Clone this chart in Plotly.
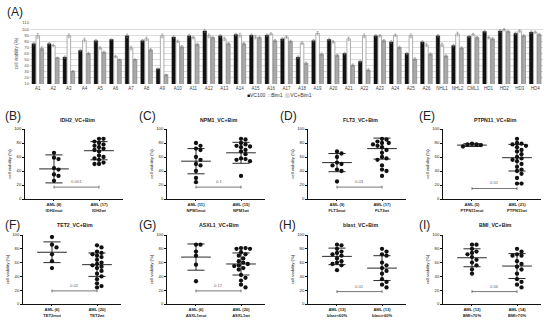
import plotly.graph_objects as go

W, H = 550, 320
FONT = "Liberation Sans, Arial, sans-serif"

# ---------------- Panel A data ----------------
cats_A = ["A1", "A2", "A3", "A4", "A5", "A6", "A7", "A8", "A9", "A10", "A11", "A12", "A13",
          "A14", "A15", "A16", "A17", "A18", "A19", "A20", "A21", "A22", "A23", "A24", "A25",
          "A26", "NHL1", "NHL2", "CML1", "HD1", "HD2", "HD3", "HD4"]
vc100 = [76, 76, 54, 65, 81, 83, 89, 81, 35, 87, 89, 97, 89, 91, 90, 90, 84, 54, 81, 83, 60,
         47, 89, 79, 60, 79, 89, 73, 88, 96, 97, 93, 95]
bim1 = [89, 73, 89, 82, 69, 55, 69, 84, 89, 80, 86, 89, 84, 90, 87, 92, 87, 77, 93, 79, 84,
        89, 89, 90, 89, 74, 74, 92, 91, 86, 99, 97, 95]
vcbim = [68, 53, 31, 60, 62, 50, 50, 66, 25, 71, 75, 86, 76, 76, 86, 81, 80, 44, 59, 57, 41,
         33, 81, 70, 51, 59, 56, 69, 86, 84, 96, 89, 91]
err_vc100 = [2, 2, 2, 2, 2, 1, 3, 2, 1, 2, 2, 3, 2, 2, 2, 2, 2, 2, 2, 2, 2, 2, 2, 2, 2, 2,
             2, 2, 2, 2, 2, 2, 2]
err_bim1 = [4, 2, 3, 3, 2, 2, 3, 3, 3, 2, 2, 3, 3, 3, 3, 2, 2, 2, 3, 2, 3, 3, 2, 2, 3, 3,
            3, 3, 2, 2, 2, 2, 2]
err_vcbim = [3, 1, 1, 2, 2, 1, 1, 2, 1, 2, 2, 2, 2, 2, 2, 2, 2, 2, 2, 2, 2, 2, 2, 2, 2, 2,
             2, 2, 2, 2, 2, 2, 2]

# ---------------- Panels B-I data ----------------
idh2_mut = [66, 59, 57, 44, 42, 35, 33, 26]
idh2_wt = [86, 86, 82, 80, 78, 76, 74, 72, 70, 68, 62, 60, 58, 56, 52, 50, 50]
npm1_mut = [80, 76, 72, 70, 60, 56, 50, 48, 40, 30, 24]
npm1_wt = [86, 85, 80, 78, 76, 75, 74, 70, 68, 64, 58, 57, 56, 54, 33]
flt3_mut = [68, 65, 60, 52, 50, 48, 42, 40, 25]
flt3_wt = [86, 85, 82, 80, 80, 78, 76, 74, 70, 66, 60, 58, 56, 48, 42, 40, 33]
ptpn11_mut = [79, 78, 78, 77, 75]
ptpn11_wt = [86, 80, 79, 78, 76, 74, 70, 68, 64, 60, 58, 56, 54, 50, 46, 42, 40, 36, 30, 22, 22]
tet2_mut = [97, 86, 82, 72, 62, 52]
tet2_wt = [85, 82, 76, 74, 72, 70, 68, 64, 60, 58, 56, 54, 52, 48, 44, 40, 36, 30, 26, 24]
asxl1_mut = [86, 86, 76, 70, 57, 33]
asxl1_wt = [81, 81, 80, 80, 75, 72, 70, 66, 62, 60, 58, 56, 55, 52, 50, 42, 38, 34, 28, 24]
blast_low = [86, 85, 80, 76, 74, 72, 70, 66, 62, 60, 58, 56, 49]
blast_high = [80, 76, 72, 70, 60, 56, 52, 48, 44, 36, 32, 28, 24]
bmi_low = [86, 86, 80, 76, 74, 72, 68, 64, 60, 56, 50, 44]
bmi_high = [80, 76, 72, 70, 70, 62, 58, 54, 50, 44, 36, 32, 28, 24]

means = {"B": [43, 69], "C": [54, 66], "D": [52, 72], "E": [77, 59],
         "F": [75, 57], "G": [68, 58], "H": [69, 52], "I": [67, 55]}
sds = {"B": [20, 13], "C": [18, 15], "D": [13, 15], "E": [2, 19],
       "F": [15, 17], "G": [19, 16], "H": [12, 18], "I": [13, 18]}
pvals = {"B": "0.001", "C": "0.1", "D": "0.03", "E": "0.01",
         "F": "0.02", "G": "0.17", "H": "0.01", "I": "0.06"}
titles = {"B": "IDH2_VC+Bim", "C": "NPM1_VC+Bim", "D": "FLT3_VC+Bim", "E": "PTPN11_VC+Bim",
          "F": "TET2_VC+Bim", "G": "ASXL1_VC+Bim", "H": "blast_VC+Bim", "I": "BMI_VC+Bim"}
groups = {"B": (idh2_mut, idh2_wt), "C": (npm1_mut, npm1_wt), "D": (flt3_mut, flt3_wt),
          "E": (ptpn11_mut, ptpn11_wt), "F": (tet2_mut, tet2_wt), "G": (asxl1_mut, asxl1_wt),
          "H": (blast_low, blast_high), "I": (bmi_low, bmi_high)}
ticklabels = {"B": ["AML (8)<br>IDH2mut", "AML (17)<br>IDH2wt"],
              "C": ["AML (11)<br>NPM1mut", "AML (15)<br>NPM1wt"],
              "D": ["AML (9)<br>FLT3mut", "AML (17)<br>FLT3wt"],
              "E": ["AML (5)<br>PTPN11mut", "AML (21)<br>PTPN11wt"],
              "F": ["AML (6)<br>TET2mut", "AML (20)<br>TET2wt"],
              "G": ["AML (6)<br>ASXL1mut", "AML (20)<br>ASXL1wt"],
              "H": ["AML (13)<br>blast&lt;60%", "AML (13)<br>blast&gt;60%"],
              "I": ["AML (12)<br>BMI&lt;70%", "AML (14)<br>BMI&gt;70%"]}

# ---------------- layout geometry (pixels) ----------------
panel_pos = {"B": (25, 1), "C": (167, 1), "D": (308, 1), "E": (443, 1),
             "F": (23, 2), "G": (167, 2), "H": (308, 2), "I": (443, 2)}
row_y = {1: (129, 199), 2: (235, 304)}
letter_x = {"B": 3, "C": 137, "D": 278, "E": 417, "F": 3, "G": 137, "H": 277, "I": 417}
letter_y = {1: 116, 2: 225}
title_y = {1: 120, 2: 225}
bracket_y = {"B": 17, "C": 17, "D": 17, "E": 15, "F": 19, "G": 19, "H": 18, "I": 18}

PW = 98          # plot width px
XPU = 45.0       # px per category unit
YPU = 0.70       # px per % unit
DOT = 4.3


def fx(p):
    return p / W


def fy(p):
    return 1 - p / H


def swarm(vals, d=4.5):
    placed = []
    out = []
    cands = [0.0]
    for j in range(1, 30):
        cands += [j * d * 0.5, -j * d * 0.5]
    for v in vals:
        y = v * YPU
        for c in cands:
            ok = True
            for (px, py) in placed:
                if ((px - c) ** 2 + (py - y) ** 2) < (d * 0.92) ** 2:
                    ok = False
                    break
            if ok:
                placed.append((c, y))
                out.append(c / XPU)
                break
    return out


fig = go.Figure()

# ---------------- Panel A ----------------
bar_line = dict(color="#7a7a7a", width=0.6)
errstyle = dict(type="data", thickness=0.5, width=1, color="#777")
fig.add_trace(go.Bar(x=cats_A, y=vc100, name="VC100", marker=dict(color="#111111", line=dict(color="#111", width=0.4)),
                     error_y=dict(array=err_vc100, **errstyle), xaxis="x", yaxis="y", showlegend=False))
fig.add_trace(go.Bar(x=cats_A, y=bim1, name="Bim1", marker=dict(color="#ffffff", line=bar_line),
                     error_y=dict(array=err_bim1, **errstyle), xaxis="x", yaxis="y", showlegend=False))
fig.add_trace(go.Bar(x=cats_A, y=vcbim, name="VC+Bim1", marker=dict(color="#a9a9a9", line=bar_line),
                     error_y=dict(array=err_vcbim, **errstyle), xaxis="x", yaxis="y", showlegend=False))

layout = dict(
    width=W, height=H, margin=dict(l=0, r=0, t=0, b=0, autoexpand=False),
    paper_bgcolor="white", plot_bgcolor="white",
    barmode="group", bargap=0.22, bargroupgap=0.12,
    font=dict(family=FONT, color="#333"),
    showlegend=False,
    xaxis=dict(domain=[fx(30), fx(543)], anchor="y", tickfont=dict(size=4.5, color="#444"),
               showline=False, ticks="", showgrid=False, tickangle=0, automargin=False),
    yaxis=dict(domain=[fy(84), fy(23)], range=[10, 110], anchor="x", dtick=10, tick0=10,
               tickfont=dict(size=4.2, color="#555"), showgrid=True, gridcolor="#dcdcdc",
               gridwidth=0.6, zeroline=False, showline=False, ticks="", automargin=False,
               title=dict(text="cell viability (%)", font=dict(size=4.6, color="#555"), standoff=3)),
)

annotations = [
    dict(text="(A)", x=fx(5), y=fy(12), xref="paper", yref="paper", xanchor="left", yanchor="middle",
         showarrow=False, font=dict(size=12, color="#222", family=FONT)),
    dict(text="<span style='color:#111'>■</span>VC100  <span style='color:#999'>□</span>Bim1  "
              "<span style='color:#999'>▨</span>VC+Bim1",
         x=fx(280), y=fy(95), xref="paper", yref="paper", xanchor="center", yanchor="middle",
         showarrow=False, font=dict(size=5, color="#333", family=FONT)),
]

# ---------------- Panels B-I ----------------
for i, key in enumerate(["B", "C", "D", "E", "F", "G", "H", "I"]):
    n = i + 2
    xa, ya = f"x{n}", f"y{n}"
    x0, row = panel_pos[key]
    ytop, ybot = row_y[row]
    layout[f"xaxis{n}"] = dict(domain=[fx(x0), fx(x0 + PW)], anchor=ya, range=[-0.644, 1.533],
                               tickvals=[0, 1], ticktext=["<b>" + t + "</b>" for t in ticklabels[key]],
                               showline=True,
                               linecolor="#111", linewidth=0.8, ticks="outside", ticklen=1.5,
                               tickwidth=0.6, tickcolor="#111", showgrid=False, zeroline=False,
                               automargin=False,
                               tickfont=dict(size=4.1, color="#222", family=FONT))
    layout[f"yaxis{n}"] = dict(domain=[fy(ybot), fy(ytop)], anchor=xa, range=[0, 100],
                               tickvals=[0, 20, 40, 60, 80, 100], showline=True, linecolor="#111",
                               linewidth=0.8, ticks="outside", ticklen=2, tickwidth=0.6,
                               tickcolor="#111", showgrid=False, zeroline=False, automargin=False,
                               tickfont=dict(size=4.2, color="#222", family=FONT),
                               title=dict(text="cell viability (%)", font=dict(size=4.3, color="#222"),
                                          standoff=2))
    # mean and SD lines
    lx, ly = [], []
    for g in (0, 1):
        m, s = means[key][g], sds[key][g]
        lx += [g - 0.33, g + 0.33, None, g, g, None, g - 0.19, g + 0.19, None, g - 0.19, g + 0.19, None]
        ly += [m, m, None, m - s, m + s, None, m + s, m + s, None, m - s, m - s, None]
    fig.add_trace(go.Scatter(x=lx, y=ly, mode="lines", line=dict(color="#111", width=0.9),
                             xaxis=xa, yaxis=ya, hoverinfo="skip"))
    # bracket
    by = bracket_y[key]
    fig.add_trace(go.Scatter(x=[0, 0, None, 0, 1, None, 1, 1],
                             y=[by - 2, by + 2, None, by, by, None, by - 2, by + 2],
                             mode="lines", line=dict(color="#555", width=0.8),
                             xaxis=xa, yaxis=ya, hoverinfo="skip"))
    annotations.append(dict(text=pvals[key], x=0.5, y=by + 1.5, xref=xa, yref=ya, xanchor="center",
                            yanchor="bottom", showarrow=False, font=dict(size=4.2, color="#666", family=FONT)))
    # dots
    for g in (0, 1):
        vals = groups[key][g]
        offs = swarm(vals)
        fig.add_trace(go.Scatter(x=[g + o for o in offs], y=vals, mode="markers",
                                 marker=dict(color="#111", size=DOT, line=dict(width=0)),
                                 xaxis=xa, yaxis=ya))
    annotations.append(dict(text="(" + key + ")", x=fx(letter_x[key]), y=fy(letter_y[row]), xref="paper",
                            yref="paper", xanchor="left", yanchor="middle", showarrow=False,
                            font=dict(size=12, color="#222", family=FONT)))
    annotations.append(dict(text="<b>" + titles[key] + "</b>", x=fx(x0 + 52), y=fy(title_y[row]),
                            xref="paper", yref="paper", xanchor="center", yanchor="middle",
                            showarrow=False, font=dict(size=5.2, color="#222", family=FONT)))

layout["annotations"] = annotations
fig.update_layout(**layout)
fig.write_html("out.html", config={"displayModeBar": False},
               post_script="document.body.style.margin='0px';")
